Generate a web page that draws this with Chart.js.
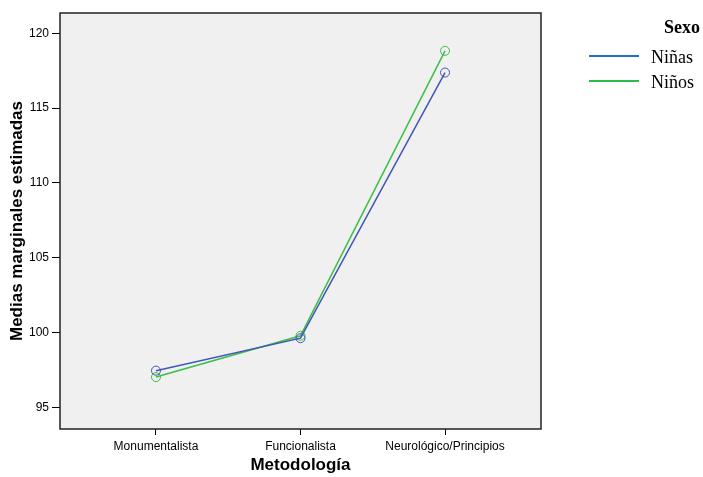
<!DOCTYPE html>
<html>
<head>
<meta charset="utf-8">
<script src="https://cdn.jsdelivr.net/npm/chart.js@4"></script>
<style>
  html, body { margin: 0; padding: 0; background: #fff; }
  #wrap { position: relative; width: 703px; height: 477px; }
  #chart { position: absolute; left: 0; top: 0; }
  .leg { position: absolute; font-family: "Liberation Serif", "Times New Roman", serif; font-size: 18px; color: #000; line-height: 20px; }
  .leg-title { right: 3px; top: 17px; font-weight: bold; }
  .leg-line { position: absolute; left: 589px; width: 50px; height: 2px; }
  .leg-text { left: 651px; }
</style>
</head>
<body>
<div id="wrap">
  <canvas id="chart" width="703" height="477"></canvas>
  <div class="leg leg-title">Sexo</div>
  <div class="leg-line" style="top:55px;background:#1f70c8"></div>
  <div class="leg leg-text" style="top:47px">Niñas</div>
  <div class="leg-line" style="top:80px;background:#2dbb4b"></div>
  <div class="leg leg-text" style="top:72px">Niños</div>
</div>
<script>
var categorias = [ "Monumentalista", "Funcionalista", "Neurológico/Principios" ];
var ninas      = [ 97.45, 99.62, 117.38 ];
var ninos      = [ 97.02, 99.78, 118.83 ];
var ticksY     = [ 95, 100, 105, 110, 115, 120 ];

function puntos( valori ) {
    return valori.map( function( v, i ){ return { x: i, y: v }; } );
}

var sfondoPlot = {
    id: "sfondoPlot",
    beforeDraw: function( chart ) {
        var a = chart.chartArea, ctx = chart.ctx;
        ctx.save();
        ctx.fillStyle = "#f0f0f0";
        ctx.fillRect( a.left, a.top, a.right - a.left, a.bottom - a.top );
        ctx.restore();
    },
    afterDraw: function( chart ) {
        var a = chart.chartArea, ctx = chart.ctx;
        ctx.save();
        ctx.strokeStyle = "#222";
        ctx.lineWidth = 1.5;
        ctx.strokeRect( a.left, a.top, a.right - a.left, a.bottom - a.top );
        ctx.restore();
    }
};

new Chart( document.getElementById( "chart" ).getContext( "2d" ), {
    type: "line",
    data: {
        datasets: [
            { label: "Niñas", data: puntos( ninas ), borderColor: "#4255b8", borderWidth: 1.5,
              pointStyle: "circle", pointRadius: 4.5, pointBorderWidth: 1, pointBackgroundColor: "rgba(0,0,0,0)",
              pointBorderColor: "#4255b8", tension: 0 },
            { label: "Niños", data: puntos( ninos ), borderColor: "#3cbf45", borderWidth: 1.5,
              pointStyle: "circle", pointRadius: 4.5, pointBorderWidth: 1, pointBackgroundColor: "rgba(0,0,0,0)",
              pointBorderColor: "#3cbf45", tension: 0 }
        ]
    },
    options: {
        responsive: false,
        animation: false,
        layout: { padding: { left: 0, right: 162, top: 13, bottom: 0 } },
        plugins: { legend: { display: false }, tooltip: { enabled: false } },
        scales: {
            x: {
                type: "linear",
                min: -0.664,
                max: 2.664,
                afterBuildTicks: function( s ){ s.ticks = categorias.map( function( c, i ){ return { value: i }; } ); },
                afterFit: function( s ){ s.height = 48; },
                ticks: {
                    autoSkip: false, maxRotation: 0, padding: 4, color: "#000",
                    font: { family: "Liberation Sans, Arial", size: 12 },
                    callback: function( v ){ return categorias[ v ]; }
                },
                grid: { drawOnChartArea: false, tickLength: 6, color: "#000", tickColor: "#000" },
                border: { display: false },
                title: { display: true, text: "Metodología", color: "#000", padding: { top: 0, bottom: 1 },
                         font: { family: "Liberation Sans, Arial", size: 17, weight: "bold" } }
            },
            y: {
                min: 93.55,
                max: 121.36,
                afterBuildTicks: function( s ){ s.ticks = ticksY.map( function( v ){ return { value: v }; } ); },
                afterFit: function( s ){ s.width = 60; },
                ticks: { padding: 3, color: "#000", font: { family: "Liberation Sans, Arial", size: 12 } },
                grid: { drawOnChartArea: false, tickLength: 8, color: "#000", tickColor: "#000" },
                border: { display: false },
                title: { display: true, text: "Medias marginales estimadas", color: "#000", padding: { top: 7, bottom: 0 },
                         font: { family: "Liberation Sans, Arial", size: 17, weight: "bold" } }
            }
        }
    },
    plugins: [ sfondoPlot ]
} );
</script>
</body>
</html>
